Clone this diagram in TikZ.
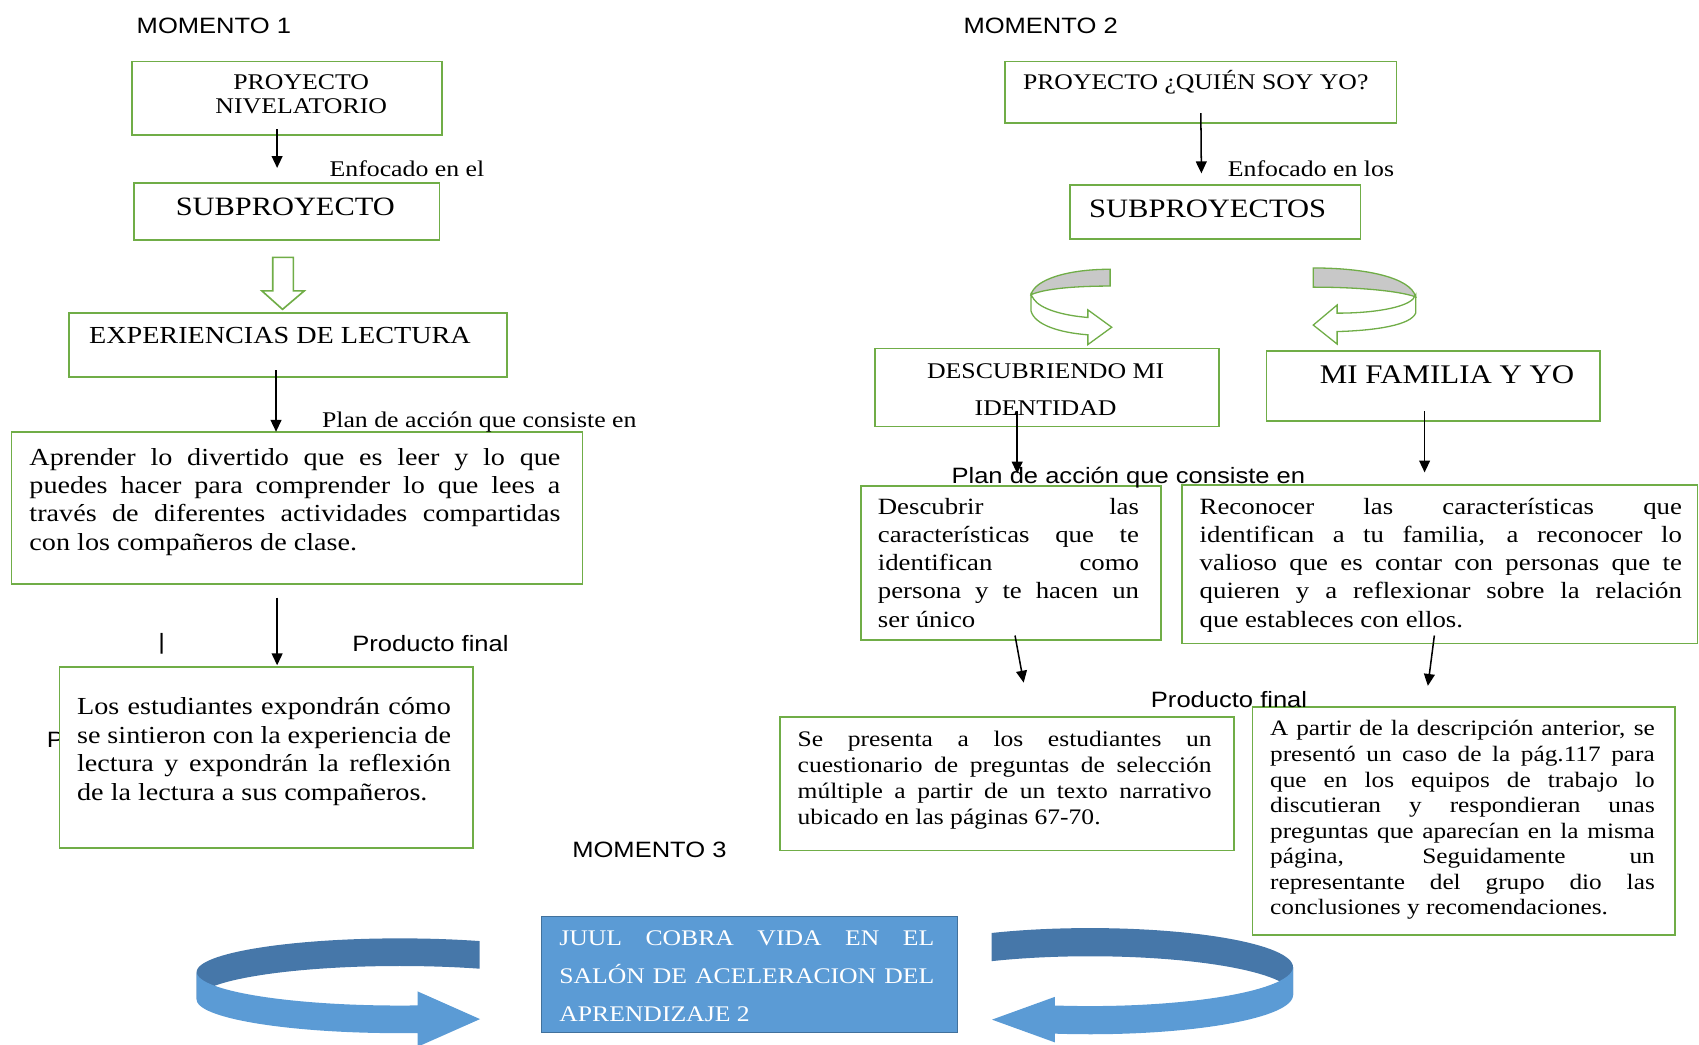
\documentclass[tikz,border=0pt]{standalone}
\usepackage{fontspec}
\setmainfont{Liberation Serif}[FakeStretch=1.15]
\newfontfamily\arialf{Liberation Sans}[FakeStretch=1.15]
\usetikzlibrary{arrows.meta}
\definecolor{boxgreen}{HTML}{70AD47}
\definecolor{blueface}{HTML}{5B9BD5}
\definecolor{bluedark}{HTML}{4677A9}
\definecolor{blueedge}{HTML}{41719C}
\definecolor{bandgray}{HTML}{C8C8C8}
\hyphenpenalty=10000
\exhyphenpenalty=10000
\begin{document}
\begin{tikzpicture}[x=1pt, y=-1pt,
    main/.style = {draw=boxgreen, line width=1.5pt, fill=white, inner sep=0pt, anchor=north west},
    ttl/.style = {inner sep=0pt, anchor=base west},
    sans/.style = {inner sep=0pt, anchor=base west, font=\arialf\fontsize{20.5}{24}\selectfont},
    txt/.style = {inner sep=0pt, anchor=north west, align=justify},
    arr/.style = {-{Triangle[length=11pt,width=10pt]}, line width=1.4pt}]
	\useasboundingbox (0,0) rectangle (1568,964);

	\node[sans] (bar) at (146,599.5) {|};
	\node[sans] (p) at (43,689.5) {P};

	\node[main, minimum width=286pt, minimum height=68pt] (pn) at (121,56) {};
	\node[main, minimum width=282pt, minimum height=53pt] (sub) at (123,168) {};
	\node[main, minimum width=404pt, minimum height=59pt] (exp) at (63,288) {};
	\node[main, minimum width=527pt, minimum height=140pt] (apr) at (10,398) {};
	\node[main, minimum width=382pt, minimum height=167pt] (los) at (54,615) {};
	\node[main, minimum width=361pt, minimum height=57pt] (pq) at (927,56) {};
	\node[main, minimum width=268pt, minimum height=50pt] (subs) at (987,170) {};
	\node[main, minimum width=317pt, minimum height=72pt] (desc) at (807,321) {};
	\node[main, minimum width=308pt, minimum height=65pt] (fam) at (1168,323) {};
	\node[main, minimum width=277pt, minimum height=142pt] (dtxt) at (794,448) {};
	\node[main, minimum width=476pt, minimum height=146pt] (rtxt) at (1090,447) {};
	\node[main, minimum width=419pt, minimum height=123pt] (se) at (719,661) {};
	\node[main, minimum width=390pt, minimum height=210pt] (ap) at (1155,652) {};
	\node[main, draw=blueedge, fill=blueface, minimum width=384pt, minimum height=107pt] (juul) at (499,845) {};

	\begin{scope}[yshift=-1.5pt]
	\node[sans] (m1) at (126,29) {MOMENTO 1};
	\node[sans] (m2) at (889,29) {MOMENTO 2};
	\node[sans] (m3) at (528,790) {MOMENTO 3};
	\node[ttl, anchor=north, align=center, font=\fontsize{20.7}{22}\selectfont] (pnText) at (278,65.6) {\strut PROYECTO\\NIVELATORIO};
	\node[ttl, font=\fontsize{20.7}{24}\selectfont] (enf1) at (304,161) {Enfocado en el};
	\node[ttl, font=\fontsize{24.4}{28}\selectfont] (subText) at (162,197) {SUBPROYECTO};
	\node[ttl, font=\fontsize{22.6}{26}\selectfont] (expText) at (82,315.5) {EXPERIENCIAS DE LECTURA};
	\node[ttl, font=\fontsize{20.7}{24}\selectfont] (plan1) at (297,393) {Plan de acción que consiste en};
	\node[txt, text width=490pt, font=\fontsize{22.6}{26}\selectfont] (aprText) at (27,409.8) {\strut Aprender lo divertido que es leer y lo que\linebreak puedes hacer para comprender lo que lees a\linebreak través de diferentes actividades compartidas\linebreak con los compañeros de clase.};
	\node[sans] (prod1) at (325,600) {Producto final};
	\node[txt, text width=345pt, font=\fontsize{22.6}{26.3}\selectfont] (losText) at (71,639.6) {\strut Los estudiantes expondrán cómo\linebreak se sintieron con la experiencia de\linebreak lectura y expondrán la reflexión\linebreak de la lectura a sus compañeros.};

	\node[ttl, font=\fontsize{20.6}{24}\selectfont] (pqText) at (944,81) {PROYECTO ¿QUIÉN SOY YO?};
	\node[ttl, font=\fontsize{20.7}{24}\selectfont] (enf2) at (1133,161) {Enfocado en los};
	\node[ttl, font=\fontsize{24.5}{28}\selectfont] (subsText) at (1005,199) {SUBPROYECTOS};
	\node[ttl, anchor=north, align=center, font=\fontsize{20.7}{34}\selectfont] (descText) at (965,324.2) {\strut DESCUBRIENDO MI\\IDENTIDAD};
	\node[ttl, font=\fontsize{24.8}{28}\selectfont] (famText) at (1218,352) {MI FAMILIA Y YO};
	\node[sans] (plan2) at (878,445) {Plan de acción que consiste en};
	\node[txt, text width=241pt, font=\fontsize{21.5}{26}\selectfont] (dText) at (810,454.8) {\strut Descubrir las\linebreak características que te\linebreak identifican como\linebreak persona y te hacen un\linebreak ser único};
	\node[txt, text width=445pt, font=\fontsize{21.5}{26}\selectfont] (rText) at (1107,454.8) {\strut Reconocer las características que\linebreak identifican a tu familia, a reconocer lo\linebreak valioso que es contar con personas que te\linebreak quieren y a reflexionar sobre la relación\linebreak que estableces con ellos.};
	\node[sans] (prod2) at (1062,651) {Producto final};
	\node[txt, text width=382pt, font=\fontsize{20.5}{23.8}\selectfont] (seText) at (736,670.8) {\strut Se presenta a los estudiantes un\linebreak cuestionario de preguntas de selección\linebreak múltiple a partir de un texto narrativo\linebreak ubicado en las páginas 67-70.};
	\node[txt, text width=355pt, font=\fontsize{20.3}{23.6}\selectfont] (apText) at (1172,661) {\strut A partir de la descripción anterior, se\linebreak presentó un caso de la pág.117 para\linebreak que en los equipos de trabajo lo\linebreak discutieran y respondieran unas\linebreak preguntas que aparecían en la misma\linebreak página, Seguidamente un\linebreak representante del grupo dio las\linebreak conclusiones y recomendaciones.};
	\node[txt, text width=346pt, text=white, font=\fontsize{20.6}{35.5}\selectfont] (juulText) at (516,845.6) {\strut JUUL COBRA VIDA EN EL\linebreak SALÓN DE ACELERACION DEL\linebreak APRENDIZAJE 2};
	\end{scope}

	\draw[arr] ([xshift=-9pt,yshift=6pt]pn.south) -- ([xshift=-9pt,yshift=13pt]sub.north);
	\draw[arr] ([yshift=7pt]exp.south -| sub.south) ++(-10,0) -- ++(0,57);
	\draw[arr] ([xshift=-18.5pt,yshift=-12pt]apr.south) -- ([xshift=10pt,yshift=1pt]los.north);
	\draw[arr] ([yshift=10pt]pq.south) -- ([xshift=-13pt,yshift=10pt]subs.north);
	\draw[arr] ([xshift=-27.5pt,yshift=15pt]desc.south) -- ([xshift=5.5pt,yshift=11pt]dtxt.north);
	\draw[arr] ([xshift=-8pt,yshift=10pt]fam.south) -- ([xshift=-14pt,yshift=11pt]rtxt.north);
	\draw[arr] ([xshift=3.5pt,yshift=5pt]dtxt.south) -- ([xshift=15.5pt,yshift=31pt]se.north);
	\draw[arr] ([xshift=-5pt,yshift=8pt]rtxt.south) -- ([xshift=-33pt,yshift=19pt]ap.north);

	\draw[boxgreen, line width=1.5pt, fill=white] ([xshift=-13pt,yshift=-15pt]sub.south) -- ++(19,0) -- ++(0,31) -- ++(10,0) -- ++(-20,17) -- ++(-19,-17) -- ++(10,0) -- cycle;

	\draw[boxgreen, line width=1.2pt, fill=bandgray] (1024.5,248.5) .. controls (985,248.5) and (955,258) .. (951.5,272) .. controls (965,266) and (995,264) .. (1024.5,264) -- cycle;
	\draw[boxgreen, line width=1.2pt, fill=white] (951.5,272) -- (951.5,287) .. controls (955,300) and (978,307) .. (1004,309) -- (1004,318) -- (1026,302) -- (1004,286) -- (1004,293) .. controls (980,291) and (960,285) .. (954,276) -- cycle;
	\draw[boxgreen, line width=1.2pt, fill=bandgray] (1212,247.3) .. controls (1260,247.3) and (1302,256) .. (1306.5,274) .. controls (1290,268) and (1250,265) .. (1212,265) -- cycle;
	\draw[boxgreen, line width=1.2pt, fill=white] (1306.5,272) -- (1306.5,289) .. controls (1302,300) and (1270,305) .. (1234,306) -- (1234,317.5) -- (1212,300) -- (1234,281.5) -- (1234,289) .. controls (1268,289) and (1296,284) .. (1304,276) -- cycle;

	\fill[bluedark] plot[domain=-66.9:-180, samples=40] ({369+187.5*cos(\x)}, {897+31*sin(\x)}) -- plot[domain=-180:-66.9, samples=40] ({369+187.5*cos(\x)}, {922.5+31*sin(\x)}) -- cycle;
	\fill[blueface] plot[domain=180:85, samples=40] ({369+187.5*cos(\x)}, {897+31*sin(\x)}) -- (385.5,915) -- (443,940.5) -- (385.5,966) -- plot[domain=85:180, samples=40] ({369+187.5*cos(\x)}, {922.5+31*sin(\x)}) -- cycle;
	\fill[bluedark] plot[domain=-119:0, samples=40] ({1006+187.3*cos(\x)}, {892.5+36*sin(\x)}) -- plot[domain=0:-119, samples=40] ({1006+187.3*cos(\x)}, {918.5+36*sin(\x)}) -- cycle;
	\fill[blueface] plot[domain=0:100, samples=40] ({1006+187.3*cos(\x)}, {892.5+36*sin(\x)}) -- (973.5,920) -- (915.5,941) -- (973.5,962) -- plot[domain=100:0, samples=40] ({1006+187.3*cos(\x)}, {918.5+36*sin(\x)}) -- cycle;
\end{tikzpicture}
\end{document}
